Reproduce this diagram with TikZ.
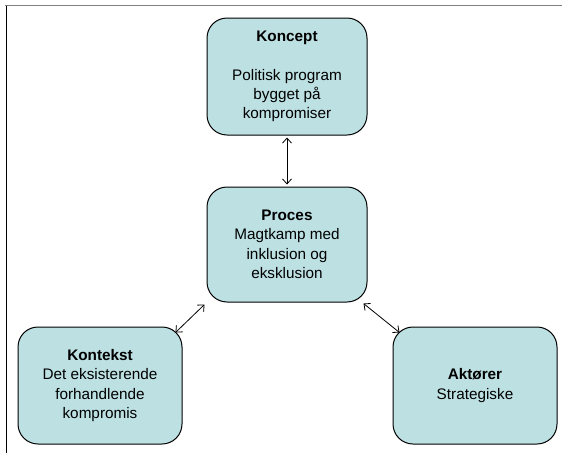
\documentclass[tikz,border=0pt]{standalone}
\usepackage{fontspec}
\setmainfont{Liberation Sans}
\usetikzlibrary{arrows.meta,calc}
\definecolor{boxfill}{RGB}{189,224,227}
\definecolor{framegray}{RGB}{128,128,128}
\begin{document}
\begin{tikzpicture}[x=1pt,y=-1pt,
  box/.style={draw=black, line width=1pt, fill=boxfill, rounded corners=20pt,
    align=center, inner sep=0pt, font=\fontsize{15.3}{19.4}\selectfont},
  link/.style={line width=0.8pt, {Straight Barb[length=5pt,width=9pt]}-{Straight Barb[length=5pt,width=9pt]}}]
  \useasboundingbox (0,0) rectangle (563,453);
  % page frame
  \draw[framegray, line width=1.8pt] (5,5.5) -- (562,5.5);
  \draw[black, line width=1pt] (6.5,5.5) -- (6.5,453);
  % boxes
  \node[box, minimum width=160pt, minimum height=117pt] (k) at (287,76.5)
    {\textbf{Koncept}\\[19.4pt]Politisk program\\bygget på\\kompromiser};
  \node[box, minimum width=160pt, minimum height=115pt] (p) at (287,244.5)
    {\textbf{Proces}\\Magtkamp med\\inklusion og\\eksklusion};
  \node[box, minimum width=164pt, minimum height=117pt] (kx) at (100,385.5)
    {\textbf{Kontekst}\\Det eksisterende\\forhandlende\\kompromis};
  \node[box, minimum width=164pt, minimum height=117pt] (a) at (475,385.5)
    {\textbf{Aktører}\\Strategiske};
  % connectors
  \coordinate (k1) at ($(k.south)+(0,2)$);
  \coordinate (p1) at ($(p.north)+(0,-2)$);
  \coordinate (p2) at ($(p.south west)+(-2,2)$);
  \coordinate (kx1) at ($(kx.north east)+(-7,6)$);
  \coordinate (p3) at ($(p.south east)+(-4,1)$);
  \coordinate (a1) at ($(a.north west)+(7,6)$);
  \draw[link] (k1) -- (p1);
  \draw[link] (p2) -- (kx1);
  \draw[link] (p3) -- (a1);
\end{tikzpicture}
\end{document}
